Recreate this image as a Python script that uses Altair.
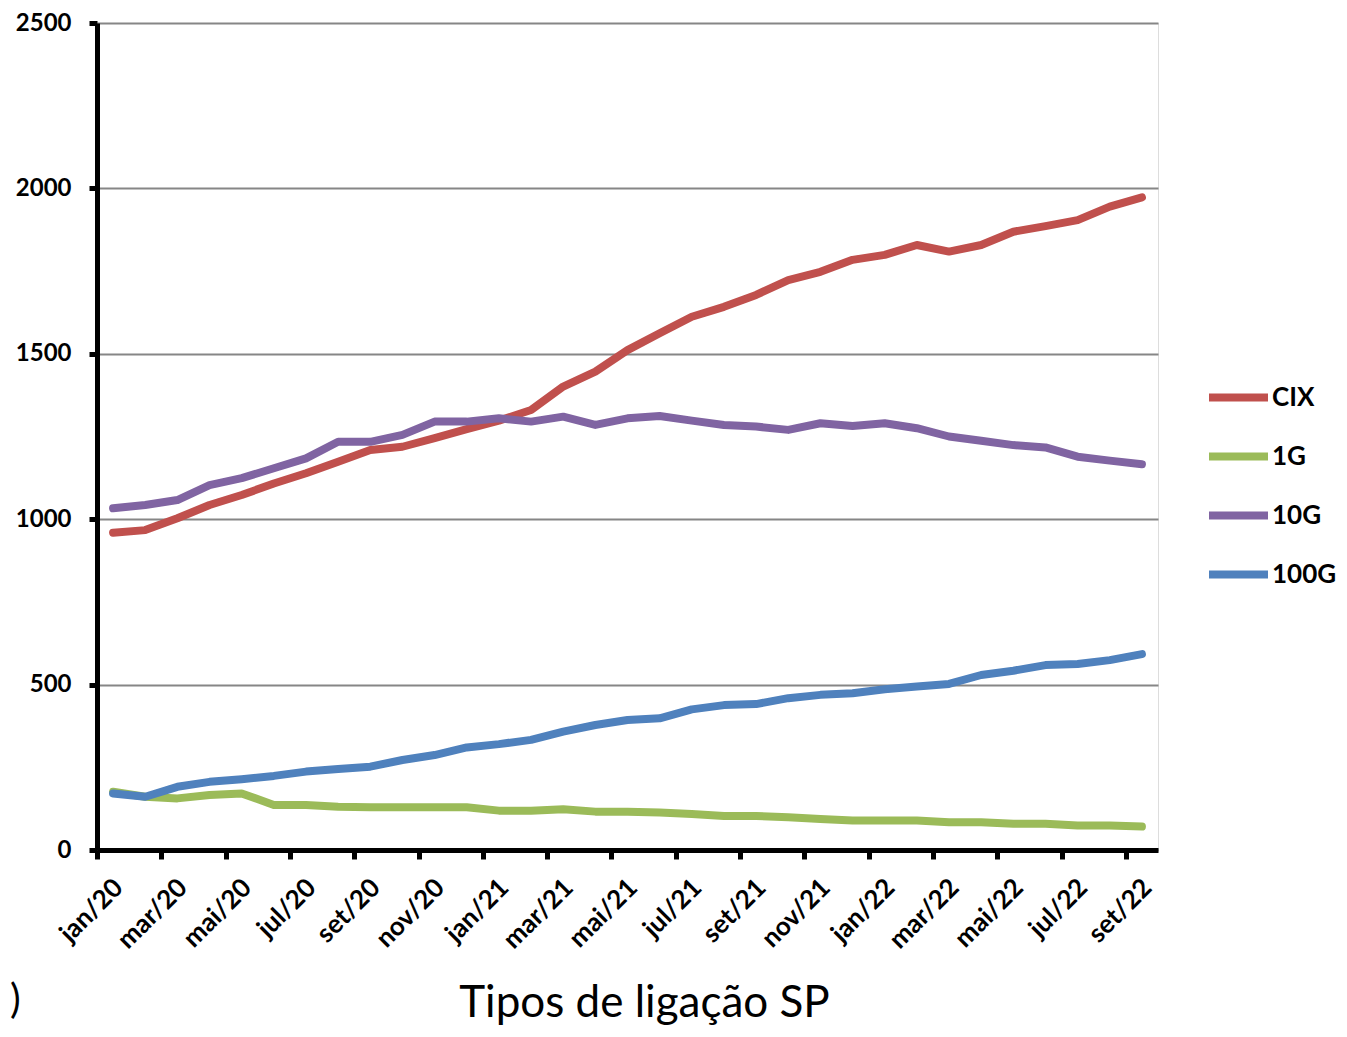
import altair as alt
import pandas as pd

months = ["jan/20","fev/20","mar/20","abr/20","mai/20","jun/20","jul/20","ago/20","set/20","out/20","nov/20","dez/20",
          "jan/21","fev/21","mar/21","abr/21","mai/21","jun/21","jul/21","ago/21","set/21","out/21","nov/21","dez/21",
          "jan/22","fev/22","mar/22","abr/22","mai/22","jun/22","jul/22","ago/22","set/22"]

cix = [959, 967, 1003, 1043, 1073, 1108, 1139, 1174, 1209, 1219, 1245, 1272,
       1298, 1330, 1401, 1446, 1511, 1562, 1612, 1642, 1678, 1723, 1748, 1784,
       1799, 1829, 1809, 1829, 1869, 1886, 1904, 1945, 1973]
g1 = [176, 161, 156, 166, 171, 136, 136, 131, 129, 129, 129, 129,
      119, 119, 123, 116, 116, 113, 109, 103, 103, 99, 94, 89,
      89, 89, 84, 84, 79, 79, 74, 74, 71]
g10 = [1033, 1043, 1058, 1103, 1124, 1154, 1184, 1234, 1234, 1255, 1295, 1295,
       1305, 1295, 1310, 1285, 1305, 1312, 1298, 1285, 1280, 1270, 1290, 1282,
       1290, 1275, 1250, 1237, 1224, 1217, 1189, 1177, 1166]
g100 = [171, 161, 191, 206, 214, 224, 237, 245, 252, 272, 287, 310,
        320, 333, 358, 378, 393, 398, 425, 438, 441, 459, 469, 474,
        486, 494, 502, 529, 542, 559, 562, 574, 592]

series_names = ["CIX", "1G", "10G", "100G"]
series_values = [cix, g1, g10, g100]
colors = ["#C0504D", "#9BBB59", "#8064A2", "#4F81BD"]
label_months = months[::2]
y_ticks = [0, 500, 1000, 1500, 2000, 2500]

rows = []
for name, vals in zip(series_names, series_values):
    for m, v in zip(months, vals):
        rows.append({"month": m, "series": name, "value": v})
df = pd.DataFrame(rows)

W, H = 1061, 827
half = W / len(months) / 2

lines = alt.Chart(df).mark_line(strokeWidth=8, strokeCap="round", strokeJoin="round").encode(
    x=alt.X("month:N", sort=months,
            scale=alt.Scale(type="point", padding=0.5),
            axis=alt.Axis(values=label_months, labelAngle=-45, labelFont="Lato", labelFontWeight="bold",
                          labelFontSize=26, labelColor="black", labelPadding=15,
                          tickOffset=-half, labelOffset=half - 4,
                          domainColor="black", domainWidth=5, tickColor="black", tickWidth=5, tickSize=9,
                          grid=False, title="Tipos de ligação SP", titleFont="Lato", titleFontSize=44,
                          titleFontWeight="normal", titleColor="black", titleX=547, titleY=166,
                          titleBaseline="alphabetic")),
    y=alt.Y("value:Q", scale=alt.Scale(domain=[0, 2500], nice=False),
            axis=alt.Axis(values=y_ticks, format="d", title=None, labelFont="Lato", labelFontWeight="bold",
                          labelFontSize=24, labelColor="black", labelPadding=18,
                          domainColor="black", domainWidth=5, tickColor="black", tickWidth=5, tickSize=8,
                          gridColor="#868686", gridWidth=2)),
    color=alt.Color("series:N", sort=series_names,
                    scale=alt.Scale(domain=series_names, range=colors),
                    legend=alt.Legend(title=None, orient="none", legendX=1108, legendY=341,
                                      symbolType="stroke", symbolStrokeWidth=8, symbolSize=3481,
                                      labelFont="Lato", labelFontWeight="bold", labelFontSize=26,
                                      labelColor="black", labelOffset=0, rowPadding=9)),
)

mark_df = pd.DataFrame({"t": [")"]})
paren = alt.Chart(mark_df).mark_text(font="Lato", fontSize=40, align="left",
                                     baseline="alphabetic", color="black").encode(
    x=alt.value(-87), y=alt.value(990), text="t:N")

chart = alt.layer(lines, paren).properties(
    width=W, height=H,
    autosize=alt.AutoSizeParams(type="none"),
    padding={"left": 89, "top": 15, "right": 180, "bottom": 178},
).configure_view(stroke=None).configure(background="white")

chart.save("out.html", embed_options={"renderer": "svg", "actions": False})
